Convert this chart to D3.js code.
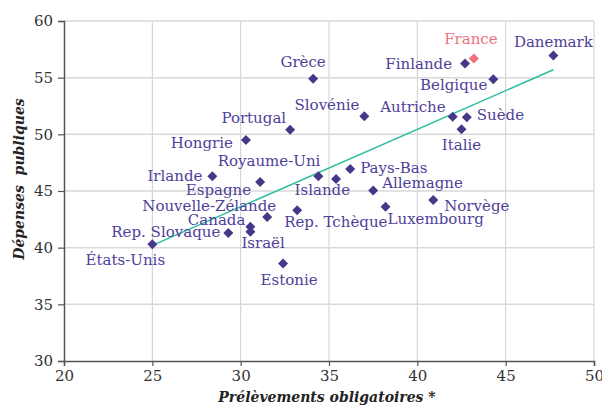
<!DOCTYPE html>
<html>
<head>
<meta charset="utf-8">
<script src="https://cdn.jsdelivr.net/npm/d3@7"></script>
<style>
  body { margin: 0; background: #fff; }
  svg { display: block; font-family: "DejaVu Serif", serif; }
</style>
</head>
<body>
<svg id="chart" width="602" height="406"></svg>
<script>
// values
var countries = ["États-Unis", "Rep. Slovaque", "Canada", "Israël", "Nouvelle-Zélande", "Espagne",
  "Irlande", "Hongrie", "Portugal", "Grèce", "Slovénie", "Royaume-Uni", "Islande", "Pays-Bas",
  "Allemagne", "Luxembourg", "Norvège", "Rep. Tchèque", "Estonie", "Autriche", "Suède", "Italie",
  "Belgique", "Finlande", "France", "Danemark"];
var prelevements = [25.0, 29.3, 30.55, 30.55, 31.5, 31.1, 28.4, 30.3, 32.8, 34.1, 37.0, 34.4, 35.4, 36.2,
  37.5, 38.2, 40.9, 33.2, 32.4, 42.0, 42.8, 42.5, 44.3, 42.7, 43.2, 47.7];
var depenses = [40.3, 41.3, 41.85, 41.4, 42.7, 45.8, 46.3, 49.5, 50.4, 54.9, 51.6, 46.3, 46.05, 46.95,
  45.05, 43.6, 44.2, 43.3, 38.6, 51.55, 51.5, 50.45, 54.85, 56.25, 56.7, 56.95];
var highlight = "France";

// trend line end points
var trendX = [25.0, 47.7];
var trendY = [40.2, 55.7];

var xTicks = [20, 25, 30, 35, 40, 45, 50];
var yTicks = [30, 35, 40, 45, 50, 55, 60];

// label placement: [anchor, dx, dy]
var labelPos = {
  "États-Unis": ["middle", -27, 21],
  "Rep. Slovaque": ["end", -8, 4],
  "Canada": ["end", -5, -2],
  "Israël": ["start", -9, 16],
  "Nouvelle-Zélande": ["end", 9, -6],
  "Espagne": ["end", -9, 13],
  "Irlande": ["end", -10, 5],
  "Hongrie": ["end", -13, 8],
  "Portugal": ["end", -4, -7],
  "Grèce": ["middle", -10, -12],
  "Slovénie": ["end", -5, -6],
  "Royaume-Uni": ["end", 2, -10],
  "Islande": ["end", 14, 16],
  "Pays-Bas": ["start", 10, 4],
  "Allemagne": ["start", 9, -2],
  "Luxembourg": ["start", 2, 17],
  "Norvège": ["start", 11, 11],
  "Rep. Tchèque": ["start", -13, 17],
  "Estonie": ["middle", 6, 21],
  "Autriche": ["end", -7, -5],
  "Suède": ["start", 10, 3],
  "Italie": ["middle", 0, 21],
  "Belgique": ["end", -6, 11],
  "Finlande": ["end", -13, 5],
  "France": ["middle", -3, -14],
  "Danemark": ["middle", 0, -9]
};

var svg = d3.select("#chart");
var margin = {left: 64, right: 8, top: 21, bottom: 45};
var width = 602 - margin.left - margin.right;
var height = 406 - margin.top - margin.bottom;

var x = d3.scaleLinear().domain([20, 50]).range([0, width]);
var y = d3.scaleLinear().domain([30, 60]).range([height, 0]);

var g = svg.append("g").attr("transform", "translate(" + margin.left + "," + margin.top + ")");

// grid
g.append("g").selectAll("line").data(xTicks.slice(1)).enter().append("line")
  .attr("x1", function(d) { return x(d); }).attr("x2", function(d) { return x(d); })
  .attr("y1", 0).attr("y2", height)
  .attr("stroke", "#cfcfcf").attr("stroke-width", 1);
g.append("g").selectAll("line").data(yTicks.slice(1)).enter().append("line")
  .attr("x1", 0).attr("x2", width)
  .attr("y1", function(d) { return y(d); }).attr("y2", function(d) { return y(d); })
  .attr("stroke", "#d9d9d9").attr("stroke-width", 1.5);

// axes
var xAxis = g.append("g").attr("transform", "translate(0," + height + ")")
  .call(d3.axisBottom(x).tickValues(xTicks).tickSize(5).tickPadding(4));
var yAxis = g.append("g")
  .call(d3.axisLeft(y).tickValues(yTicks).tickSize(6).tickPadding(5));
[xAxis, yAxis].forEach(function(a) {
  a.select(".domain").attr("stroke", "#555").attr("stroke-width", 1.5);
  a.selectAll(".tick line").attr("stroke", "#555").attr("stroke-width", 1.2);
  a.selectAll("text").attr("fill", "#333").style("font-size", "15px").style("font-family", "DejaVu Serif");
});

// trend line
g.append("line")
  .attr("x1", x(trendX[0])).attr("y1", y(trendY[0]))
  .attr("x2", x(trendX[1])).attr("y2", y(trendY[1]))
  .attr("stroke", "#2bbf9f").attr("stroke-width", 1.5);

var points = countries.map(function(c, i) {
  return {name: c, px: prelevements[i], dp: depenses[i]};
});

// markers
g.append("g").selectAll("path").data(points).enter().append("path")
  .attr("d", d3.symbol(d3.symbolSquare, 50))
  .attr("transform", function(d) { return "translate(" + x(d.px) + "," + y(d.dp) + ") rotate(45)"; })
  .attr("fill", function(d) { return d.name == highlight ? "#f0707f" : "#463889"; });

// labels
g.append("g").selectAll("text").data(points).enter().append("text")
  .attr("x", function(d) { return x(d.px) + labelPos[d.name][1]; })
  .attr("y", function(d) { return y(d.dp) + labelPos[d.name][2]; })
  .attr("text-anchor", function(d) { return labelPos[d.name][0]; })
  .attr("fill", function(d) { return d.name == highlight ? "#f0707f" : "#4f409a"; })
  .style("font-size", "15px")
  .text(function(d) { return d.name; });

// axis titles
svg.append("text")
  .attr("x", 327).attr("y", 402)
  .attr("text-anchor", "middle")
  .style("font-size", "14px").style("font-weight", "bold").style("font-style", "italic")
  .attr("fill", "#222")
  .text("Prélèvements obligatoires *");
svg.append("text")
  .attr("transform", "translate(24,179) rotate(-90)")
  .attr("text-anchor", "middle")
  .style("font-size", "14px").style("font-weight", "bold").style("font-style", "italic")
  .style("white-space", "pre")
  .attr("fill", "#222")
  .text("Dépenses  publiques");
</script>
</body>
</html>
